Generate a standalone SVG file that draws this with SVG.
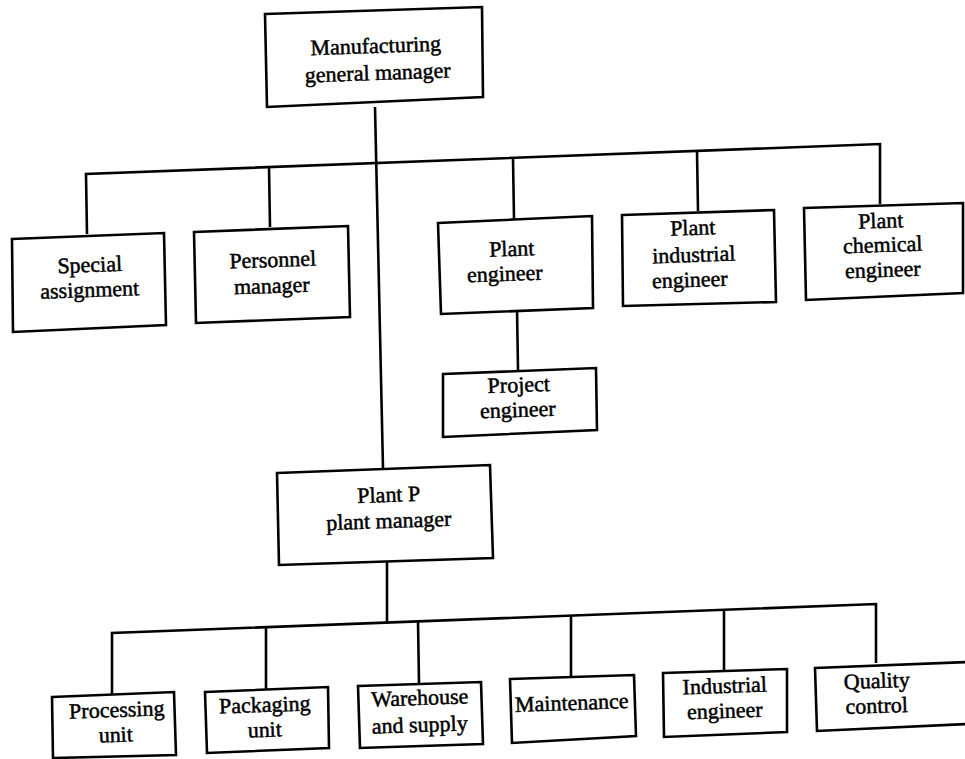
<svg xmlns="http://www.w3.org/2000/svg" width="965" height="759" viewBox="0 0 965 759">
  <style>
    .box { fill: #ffffff; stroke: #000000; stroke-width: 2.6; stroke-linejoin: miter; }
    .link { fill: none; stroke: #000000; stroke-width: 2.6; stroke-linejoin: miter; }
    text { font-family: "Liberation Serif", "Times New Roman", serif; font-size: 22px; fill: #000000; stroke: #000000; stroke-width: 0.5; text-anchor: middle; }
  </style>
  <rect x="0" y="0" width="965" height="759" fill="#ffffff"/>

  <!-- reporting lines -->
  <g id="connectors">
    <path class="link" d="M375 107 L383 468"/>
    <path class="link" d="M87 234 L86 174 L880 144 L880 204"/>
    <path class="link" d="M269 167 L270 227"/>
    <path class="link" d="M513 158 L514 219"/>
    <path class="link" d="M697 151 L698 211"/>
    <path class="link" d="M517 308 L518 370"/>
    <path class="link" d="M387 561 L387 623"/>
    <path class="link" d="M112 694 L112 633 L876 604 L876 663"/>
    <path class="link" d="M266 627 L266 689"/>
    <path class="link" d="M418 621 L419 684"/>
    <path class="link" d="M571 616 L571 677"/>
    <path class="link" d="M724 610 L724 671"/>
  </g>

  <g id="manufacturing-gm">
    <polygon class="box" points="265,14 482,7 483,97 267,107"/>
    <text x="376" y="53" transform="rotate(-2 376 53)">Manufacturing</text>
    <text x="378" y="80" transform="rotate(-2 378 80)">general manager</text>
  </g>

  <g id="special-assignment">
    <polygon class="box" points="12,239 164,233 166,325 13,332"/>
    <text x="90" y="272" transform="rotate(-2 90 272)">Special</text>
    <text x="90" y="297" transform="rotate(-2 90 297)">assignment</text>
  </g>

  <g id="personnel-manager">
    <polygon class="box" points="194,232 348,226 350,317 196,323"/>
    <text x="273" y="267" transform="rotate(-2 273 267)">Personnel</text>
    <text x="272" y="293" transform="rotate(-2 272 293)">manager</text>
  </g>

  <g id="plant-engineer">
    <polygon class="box" points="438,223 592,216 593,308 441,314"/>
    <text x="512" y="256" transform="rotate(-2 512 256)">Plant</text>
    <text x="505" y="281" transform="rotate(-2 505 281)">engineer</text>
  </g>

  <g id="plant-industrial-engineer">
    <polygon class="box" points="622,215 774,210 776,302 623,306"/>
    <text x="693" y="235" transform="rotate(-2 693 235)">Plant</text>
    <text x="694" y="262" transform="rotate(-2 694 262)">industrial</text>
    <text x="690" y="287" transform="rotate(-2 690 287)">engineer</text>
  </g>

  <g id="plant-chemical-engineer">
    <polygon class="box" points="804,208 963,203 963,293 806,300"/>
    <text x="881" y="228" transform="rotate(-2 881 228)">Plant</text>
    <text x="883" y="252" transform="rotate(-2 883 252)">chemical</text>
    <text x="883" y="277" transform="rotate(-2 883 277)">engineer</text>
  </g>

  <g id="project-engineer">
    <polygon class="box" points="443,374 596,368 597,430 443,437"/>
    <text x="519" y="392" transform="rotate(-2 519 392)">Project</text>
    <text x="518" y="417" transform="rotate(-2 518 417)">engineer</text>
  </g>

  <g id="plant-p-manager">
    <polygon class="box" points="277,473 490,465 493,558 279,565"/>
    <text x="389" y="502" transform="rotate(-2 389 502)">Plant P</text>
    <text x="389" y="528" transform="rotate(-2 389 528)">plant manager</text>
  </g>

  <g id="processing-unit">
    <polygon class="box" points="52,697 174,692 176,755 53,758"/>
    <text x="117" y="717" transform="rotate(-2 117 717)">Processing</text>
    <text x="116" y="742" transform="rotate(-2 116 742)">unit</text>
  </g>

  <g id="packaging-unit">
    <polygon class="box" points="205,692 328,687 329,748 207,753"/>
    <text x="265" y="712" transform="rotate(-2 265 712)">Packaging</text>
    <text x="265" y="737" transform="rotate(-2 265 737)">unit</text>
  </g>

  <g id="warehouse-supply">
    <polygon class="box" points="358,686 481,682 483,744 360,748"/>
    <text x="420" y="705" transform="rotate(-2 420 705)">Warehouse</text>
    <text x="420" y="732" transform="rotate(-2 420 732)">and supply</text>
  </g>

  <g id="maintenance">
    <polygon class="box" points="510,679 634,675 636,736 512,743"/>
    <text x="572" y="710" transform="rotate(-2 572 710)">Maintenance</text>
  </g>

  <g id="industrial-engineer">
    <polygon class="box" points="663,673 787,669 787,732 664,737"/>
    <text x="725" y="693" transform="rotate(-2 725 693)">Industrial</text>
    <text x="725" y="718" transform="rotate(-2 725 718)">engineer</text>
  </g>

  <g id="quality-control">
    <polygon class="box" points="815,668 968,662 968,724 817,731"/>
    <text x="877" y="688" transform="rotate(-2 877 688)">Quality</text>
    <text x="877" y="713" transform="rotate(-2 877 713)">control</text>
  </g>
</svg>
